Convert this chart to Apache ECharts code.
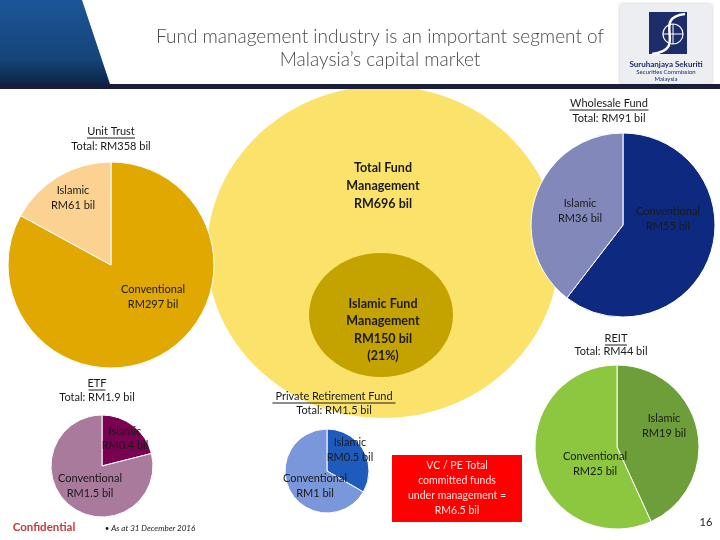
<!DOCTYPE html>
<html><head><meta charset="utf-8">
<script src="https://cdn.jsdelivr.net/npm/echarts@6/dist/echarts.min.js"></script>
<style>html,body{margin:0;padding:0;background:#fff}#c{width:720px;height:540px}</style>
</head><body><div id="c"></div>
<script>
// ---- data ----
const sliceNames = ['Conventional', 'Islamic'];
const unitTrust = [297, 61];
const wholesale = [55, 36];
const reit = [25, 19];
const etf = [1.5, 0.4];
const prf = [1, 0.5];
const totalFM = 696;
const islamicFM = 150;
const islamicShare = 21;
const vcpe = 6.5;

const FONT = 'Lato, "Open Sans", sans-serif';
const chart = echarts.init(document.getElementById('c'), null, {renderer: 'canvas'});

// islamicFirst: Islamic slice drawn clockwise from 12 o'clock
function pie(name, data, center, r, colors, islamicFirst) {
  let items = data.map((v, i) => ({name: sliceNames[i], value: v, itemStyle: {color: colors[i]}}));
  if (islamicFirst) items = items.reverse();
  return {
    type: 'pie', name: name, center: center, radius: r, startAngle: 90, clockwise: true,
    silent: true, animation: false, label: {show: false}, labelLine: {show: false},
    itemStyle: {borderColor: '#fff', borderWidth: 1},
    data: items
  };
}
function txt(x, y, s, o) {
  o = o || {};
  return {type: 'text', x: x, y: y, z: 100, silent: true, style: Object.assign({
    text: s, fill: '#1a1a1a', font: (o.weight || 'normal') + ' ' + (o.size || 11) + 'px ' + FONT,
    textAlign: 'center', textVerticalAlign: 'middle', lineHeight: o.lh || 14
  }, o.style || {})};
}
function uline(cx, y, w) {
  return {type: 'line', z: 100, silent: true, shape: {x1: cx - w / 2, y1: y, x2: cx + w / 2, y2: y}, style: {stroke: '#1a1a1a', lineWidth: 1}};
}
const fmt = v => 'RM' + v + ' bil';

const graphics = [
  // header
  {type: 'polygon', z: 1, shape: {points: [[0, 0], [82, 0], [110, 84], [0, 84]]},
   style: {fill: new echarts.graphic.LinearGradient(0, 0, 0, 1, [{offset: 0, color: '#1c5597'}, {offset: 0.7, color: '#154579'}, {offset: 1, color: '#0c2647'}])}},
  {type: 'rect', z: 1, shape: {x: 0, y: 84, width: 720, height: 5}, style: {fill: '#1b1e3a'}},
  txt(380, 37, 'Fund management industry is an important segment of', {size: 19, weight: '300', style: {fill: '#4a4a4a'}}),
  txt(380, 60, 'Malaysia\u2019s capital market', {size: 19, weight: '300', style: {fill: '#4a4a4a'}}),
  // logo
  {type: 'rect', z: 1, shape: {x: 620, y: 4, width: 92, height: 80, r: 3}, style: {fill: '#eceef2', shadowBlur: 3, shadowColor: 'rgba(0,0,0,0.25)'}},
  {type: 'rect', z: 2, shape: {x: 649, y: 12, width: 38, height: 42}, style: {fill: '#1d2c6a'}},
  {type: 'circle', z: 3, shape: {cx: 673, cy: 34, r: 10}, style: {fill: 'none', stroke: '#fff', lineWidth: 1.2}},
  {type: 'line', z: 3, shape: {x1: 663, y1: 34, x2: 683, y2: 34}, style: {stroke: '#fff', lineWidth: 1}},
  {type: 'line', z: 3, shape: {x1: 673, y1: 24, x2: 673, y2: 44}, style: {stroke: '#fff', lineWidth: 1}},
  {type: 'bezierCurve', z: 3, shape: {x1: 685, y1: 14, x2: 652, y2: 54, cpx1: 650, cpy1: 18, cpx2: 690, cpy2: 50}, style: {stroke: '#fff', lineWidth: 2.5, fill: 'none'}},
  txt(666, 64, 'Suruhanjaya Sekuriti', {size: 8, weight: 'bold', style: {fill: '#1d2c6a'}}),
  txt(666, 72, 'Securities Commission', {size: 6, style: {fill: '#1d2c6a'}}),
  txt(666, 79, 'Malaysia', {size: 6, style: {fill: '#1d2c6a'}}),
  // big ellipses
  {type: 'ellipse', z: 0, shape: {cx: 383, cy: 252, rx: 176, ry: 166}, style: {fill: '#fbe36b'}},
  {type: 'ellipse', z: 0, shape: {cx: 381, cy: 315, rx: 72, ry: 62}, style: {fill: '#c4a200'}},
  txt(383, 186, 'Total Fund\nManagement\n' + fmt(totalFM), {size: 12.5, weight: 'bold', lh: 18}),
  txt(383, 330, 'Islamic Fund\nManagement\n' + fmt(islamicFM) + '\n(' + islamicShare + '%)', {size: 12.5, weight: 'bold', lh: 17.5}),
  // Unit Trust
  txt(111, 131, 'Unit Trust'), uline(111, 138, 48),
  txt(111, 146, 'Total: ' + fmt(unitTrust[0] + unitTrust[1])),
  txt(73, 198, 'Islamic\n' + fmt(unitTrust[1]), {lh: 15}),
  txt(153, 297, 'Conventional\n' + fmt(unitTrust[0]), {lh: 15}),
  // Wholesale
  txt(609, 103, 'Wholesale Fund'), uline(609, 110, 79),
  txt(609, 118, 'Total: ' + fmt(wholesale[0] + wholesale[1])),
  txt(580, 211, 'Islamic\n' + fmt(wholesale[1]), {lh: 15}),
  txt(668, 219, 'Conventional\n' + fmt(wholesale[0]), {lh: 15}),
  // REIT
  txt(616, 338, 'REIT'), uline(616, 345, 22),
  txt(611, 351, 'Total: ' + fmt(reit[0] + reit[1])),
  txt(664, 426, 'Islamic\n' + fmt(reit[1]), {lh: 15}),
  txt(595, 464, 'Conventional\n' + fmt(reit[0]), {lh: 15}),
  // ETF
  txt(97, 383, 'ETF'), uline(97, 390, 17),
  txt(97, 397, 'Total: ' + fmt(etf[0] + etf[1])),
  txt(125, 438, 'Islamic\n' + fmt(etf[1]), {lh: 14}),
  txt(90, 486, 'Conventional\n' + fmt(etf[0]), {lh: 15}),
  // PRF
  txt(334, 396, 'Private Retirement Fund'), uline(334, 403, 123),
  txt(334, 410, 'Total: ' + fmt(prf[0] + prf[1])),
  txt(350, 450, 'Islamic\n' + fmt(prf[1]), {lh: 15}),
  txt(315, 486, 'Conventional\n' + fmt(prf[0]), {lh: 15}),
  // VC/PE
  {type: 'rect', z: 1, shape: {x: 392, y: 455, width: 130, height: 67}, style: {fill: '#ff0000'}},
  txt(457, 488, 'VC / PE Total\ncommitted funds\nunder management =\n' + fmt(vcpe), {size: 10.5, lh: 15, style: {fill: '#fde2e2'}}),
  // footer
  txt(44, 527, 'Confidential', {size: 11.5, weight: 'bold', style: {fill: '#c23a3c'}}),
  txt(150, 528, '\u2022 As at 31 December 2016', {size: 8, style: {fontStyle: 'italic', font: 'italic 8px ' + FONT}}),
  txt(706, 522, '16', {size: 11})
];

chart.setOption({
  animation: false,
  series: [
    pie('Unit Trust', unitTrust, [111, 265], 103, ['#e0a800', '#fcd292'], false),
    pie('Wholesale Fund', wholesale, [623, 225], 92, ['#0d2a80', '#8289ba'], false),
    pie('REIT', reit, [617, 447], 82, ['#8dc63f', '#6e9e3a'], true),
    pie('ETF', etf, [102, 466], 51, ['#a97a9c', '#7a0052'], true),
    pie('Private Retirement Fund', prf, [327, 471], 42, ['#7b97db', '#1f5bbd'], true)
  ],
  graphic: graphics
});
</script></body></html>
